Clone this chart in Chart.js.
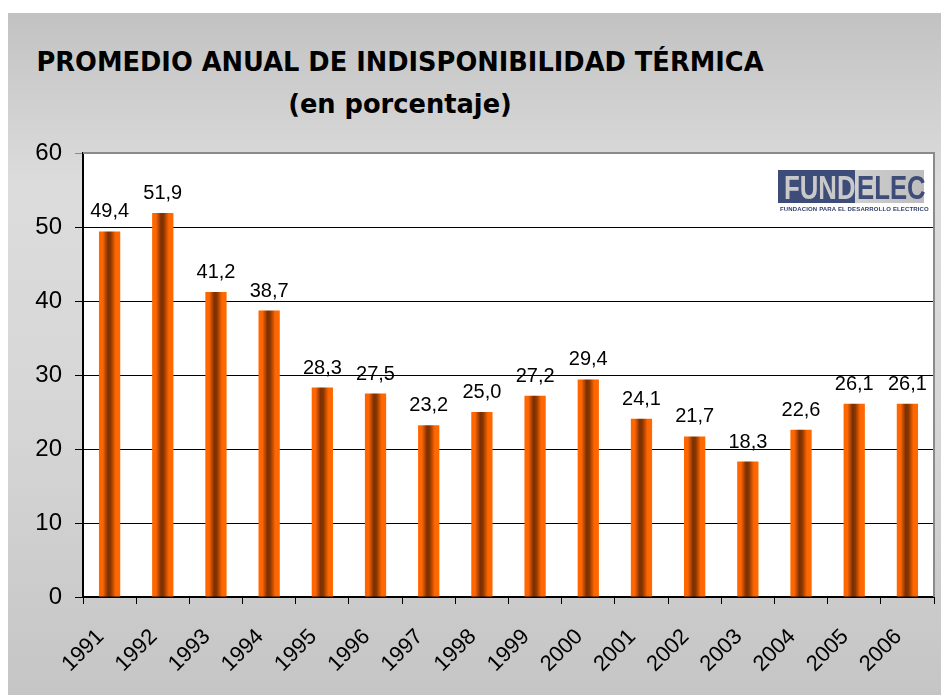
<!DOCTYPE html>
<html>
<head>
<meta charset="utf-8">
<script src="https://cdn.jsdelivr.net/npm/chart.js@4.4.1/dist/chart.umd.min.js"></script>
<style>
  html, body { margin:0; padding:0; background:#fff; }
  #wrap { position:relative; width:941px; height:695px; overflow:hidden; }
  #panel {
    position:absolute; left:8px; top:13px; right:0; bottom:0;
    background:linear-gradient(to bottom, #c2c2c2 0%, #dcdcdc 25%, #d6d6d6 60%, #c5c5c5 100%);
  }
  #chart { position:absolute; left:0; top:0; }
  .title {
    position:absolute; left:0; width:800px; text-align:center;
    font-family:"DejaVu Sans", sans-serif; font-weight:bold; font-size:25.7px;
    line-height:26px; color:#000; white-space:nowrap;
  }
  #logo { position:absolute; left:778px; top:170px; width:146px; height:33px; }
  #logo .dark { position:absolute; left:0; top:0; width:77px; height:33px; background:#3e4c7a; }
  #logo .light { position:absolute; left:77px; top:0; width:69px; height:33px; background:linear-gradient(to right,#cfcfcf,#bdbdbd); }
  #logo .txt {
    position:absolute; top:1px; font-family:"Liberation Sans", Arial, sans-serif; font-weight:bold;
    font-size:33px; line-height:33px; transform:scaleX(0.78); transform-origin:left top; white-space:nowrap;
  }
  #logo .sub {
    position:absolute; left:2px; top:36px; font-family:"Liberation Sans", Arial, sans-serif; font-weight:bold;
    font-size:6px; line-height:6px; color:#2f3b68; white-space:nowrap; letter-spacing:0.15px;
  }
</style>
</head>
<body>
<div id="wrap">
  <div id="panel"></div>
  <div class="title" style="top:49px">PROMEDIO ANUAL DE INDISPONIBILIDAD TÉRMICA</div>
  <div class="title" style="top:91px">(en porcentaje)</div>
  <canvas id="chart" width="941" height="695"></canvas>
  <div id="logo">
    <div class="dark"></div>
    <div class="light"></div>
    <span class="txt" style="left:6px;color:#c9c9c9">FUND</span>
    <span class="txt" style="left:79px;color:#3e4c7a">ELEC</span>
    <span class="sub">FUNDACION PARA EL DESARROLLO ELECTRICO</span>
  </div>
</div>
<script>
const years = ["1991","1992","1993","1994","1995","1996","1997","1998","1999","2000","2001","2002","2003","2004","2005","2006"];
const indisponibilidad = [49.4, 51.9, 41.2, 38.7, 28.3, 27.5, 23.2, 25.0, 27.2, 29.4, 24.1, 21.7, 18.3, 22.6, 26.1, 26.1];
const yTicks = [0, 10, 20, 30, 40, 50, 60];

const BAR_PCT = 0.4;

// orange cylinder-ish shading for each bar
function barFill(ctx){
  const chart = ctx.chart;
  const xs = chart.scales.x;
  if(!chart.chartArea || !xs) return "#ff6600";
  const cx = xs.getPixelForValue(ctx.dataIndex);
  const w = xs.width / years.length * BAR_PCT;
  const g = chart.ctx.createLinearGradient(cx - w/2, 0, cx + w/2, 0);
  g.addColorStop(0, "#ff6600");
  g.addColorStop(0.18, "#ff6600");
  g.addColorStop(0.42, "#7a2f00");
  g.addColorStop(0.55, "#8a3600");
  g.addColorStop(0.78, "#ff6600");
  g.addColorStop(1, "#ff6a00");
  return g;
}

// white plot background + gray top/right frame
const plotFrame = {
  id:"plotFrame",
  beforeDraw(chart){
    const {ctx, chartArea:a} = chart;
    ctx.save();
    ctx.fillStyle = "#fff";
    ctx.fillRect(a.left, a.top, a.right - a.left, a.bottom - a.top);
    ctx.restore();
  },
  afterDraw(chart){
    const {ctx, chartArea:a} = chart;
    ctx.save();
    ctx.strokeStyle = "#8a8a8a";
    ctx.lineWidth = 2;
    ctx.beginPath();
    ctx.moveTo(a.left, a.top);
    ctx.lineTo(a.right, a.top);
    ctx.lineTo(a.right, a.bottom);
    ctx.stroke();
    ctx.restore();
  }
};

// values over the bars, decimal comma
const valueLabels = {
  id:"valueLabels",
  afterDatasetsDraw(chart){
    const {ctx} = chart;
    const meta = chart.getDatasetMeta(0);
    ctx.save();
    ctx.font = "20px 'Liberation Sans', Arial, sans-serif";
    ctx.fillStyle = "#000";
    ctx.textAlign = "center";
    ctx.textBaseline = "alphabetic";
    meta.data.forEach((bar,i)=>{
      const txt = indisponibilidad[i].toFixed(1).replace(".", ",");
      ctx.fillText(txt, bar.x, bar.y - 14);
    });
    ctx.restore();
  }
};

new Chart(document.getElementById("chart"),{
  type:"bar",
  data:{
    labels: years,
    datasets:[{
      data: indisponibilidad,
      backgroundColor: barFill,
      borderWidth: 0,
      barPercentage: BAR_PCT,
      categoryPercentage: 1
    }]
  },
  options:{
    responsive:false,
    animation:false,
    devicePixelRatio:1,
    layout:{ padding:{ left:0, top:153, right:7, bottom:0 } },
    plugins:{ legend:{display:false}, tooltip:{enabled:false}, title:{display:false} },
    scales:{
      x:{
        offset:true,
        grid:{ offset:true, drawOnChartArea:false, drawTicks:true, tickLength:7, color:"#000", lineWidth:1 },
        border:{ display:true, color:"#000", width:2 },
        ticks:{
          color:"#000", minRotation:45, maxRotation:45, autoSkip:false, padding:20, labelOffset:-9,
          font:{ family:"'Liberation Sans', Arial, sans-serif", size:22 }
        },
        afterFit(s){ s.height = 98; s.paddingLeft = 0; s.paddingRight = 0; }
      },
      y:{
        min:0, max:60,
        afterBuildTicks(s){ s.ticks = yTicks.map(v=>({value:v})); },
        grid:{ color:(c)=> c.tick && c.tick.value === 60 ? "#8a8a8a" : "#000", lineWidth:1, tickLength:8, drawTicks:true },
        border:{ display:true, color:"#000", width:2 },
        ticks:{
          color:"#000", padding:13,
          font:{ family:"'Liberation Sans', Arial, sans-serif", size:24 }
        },
        afterFit(s){ s.width = 83; }
      }
    }
  },
  plugins:[plotFrame, valueLabels]
});
</script>
</body>
</html>
